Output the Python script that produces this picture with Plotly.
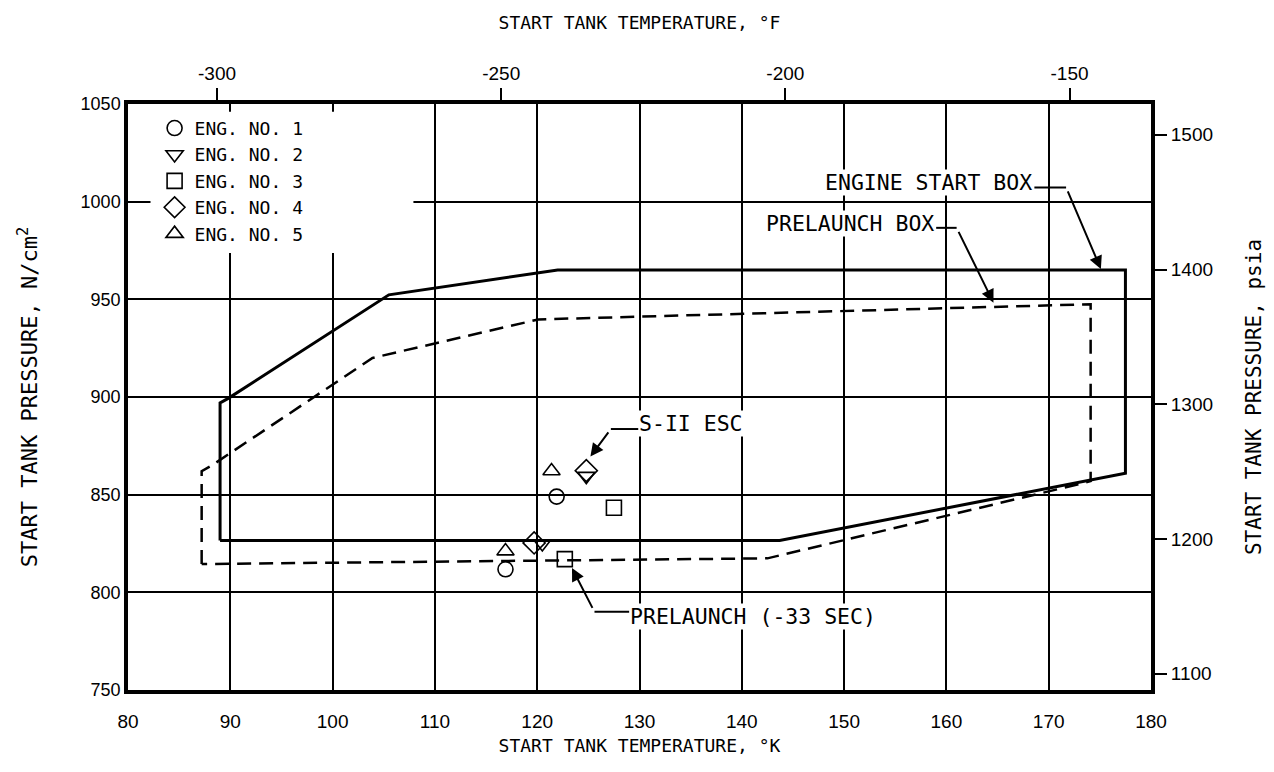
import plotly.graph_objects as go

# ---------------- data ----------------
eng_labels = ["ENG. NO. 1", "ENG. NO. 2", "ENG. NO. 3", "ENG. NO. 4", "ENG. NO. 5"]
eng_symbols = ["circle-open", "triangle-down-open", "square-open", "diamond-open", "triangle-up-open"]
eng_sizes = [15, 15, 15, 17, 15]

# S-II ESC points (temperature K, pressure N/cm2)
esc_temp = [121.9, 124.8, 127.5, 124.8, 121.4]
esc_press = [849.0, 859.5, 843.3, 862.3, 862.1]
# Prelaunch (-33 sec) points
pre_temp = [116.9, 120.5, 122.7, 119.7, 116.9]
pre_press = [811.8, 825.0, 817.0, 825.3, 821.1]

# Engine start box outline
start_box_temp = [89.0, 89.0, 89.8, 105.5, 122.0, 177.5, 177.5, 143.7, 89.0]
start_box_press = [826.5, 897.0, 899.3, 952.3, 965.0, 965.0, 861.0, 826.5, 826.5]

# Prelaunch box outline
pre_box_temp = [87.2, 87.2, 88.2, 103.9, 120.1, 174.1, 174.1, 173.3, 142.5, 87.2]
pre_box_press = [814.5, 862.0, 865.0, 920.0, 939.7, 947.5, 857.0, 855.8, 817.4, 814.5]

x_range = [80, 180]
y_range = [750, 1050]
F_ticks = [-300, -250, -200, -150]
psia_ticks = [1100, 1200, 1300, 1400, 1500]


def k_to_f(k):
    return k * 9.0 / 5.0 - 459.67


N_PER_CM2_PER_PSI = 0.689476

TXT = "DejaVu Sans Mono, Liberation Mono, monospace"
NUM = "Liberation Sans, Arial, sans-serif"

fig = go.Figure()

fig.add_trace(go.Scatter(
    x=start_box_temp, y=start_box_press, mode="lines",
    line=dict(color="black", width=3), showlegend=False, hoverinfo="skip"))
fig.add_trace(go.Scatter(
    x=pre_box_temp, y=pre_box_press, mode="lines",
    line=dict(color="black", width=2.5, dash="14px,8px"), showlegend=False, hoverinfo="skip"))

for i in range(5):
    fig.add_trace(go.Scatter(
        x=[esc_temp[i], pre_temp[i]], y=[esc_press[i], pre_press[i]],
        mode="markers", name=eng_labels[i],
        marker=dict(symbol=eng_symbols[i], size=eng_sizes[i], color="black",
                    line=dict(color="black", width=1.6))))

# invisible traces to carry the secondary axes
fig.add_trace(go.Scatter(x=[k_to_f(v) for v in x_range], y=[None, None], xaxis="x2",
                         yaxis="y", showlegend=False, hoverinfo="skip"))
fig.add_trace(go.Scatter(x=[None, None], y=[v / N_PER_CM2_PER_PSI for v in y_range],
                         xaxis="x", yaxis="y2", showlegend=False, hoverinfo="skip"))

# white area behind the legend breaks the grid
fig.add_shape(type="rect", xref="x", yref="y", x0=82.2, x1=107.9, y0=973.7, y1=1046.0,
              fillcolor="white", line=dict(width=0), layer="between")

# callouts: (text, text_x, text_y, xanchor, stub_x0, stub_x1, stub_y, tip_x, tip_y)
callouts = [
    ("ENGINE START BOX", 168.5, 1009.8, "right", 168.6, 171.7, 1007.3, 175.1, 965.5),
    ("PRELAUNCH BOX", 158.9, 988.6, "right", 159.0, 161.0, 986.6, 164.6, 948.3),
    ("S-II ESC", 129.9, 886.2, "left", 127.2, 129.9, 883.6, 125.2, 869.5),
    ("PRELAUNCH (-33 SEC)", 129.0, 787.6, "left", 125.6, 129.0, 790.0, 123.4, 812.5),
]

annotations = []
shapes = []
for text, tx, ty, anc, sx0, sx1, sy, hx, hy in callouts:
    annotations.append(dict(x=tx, y=ty, xref="x", yref="y", text=text, showarrow=False,
                            xanchor=anc, yanchor="middle", bgcolor="white", borderpad=0,
                            font=dict(family=TXT, size=21.5, color="black")))
    shapes.append(dict(type="line", xref="x", yref="y", x0=sx0, x1=sx1, y0=sy, y1=sy,
                       line=dict(color="black", width=2)))
    bend_x = sx0 if anc == "left" else sx1
    annotations.append(dict(x=hx, y=hy, xref="x", yref="y", ax=bend_x, ay=sy,
                            axref="x", ayref="y", text=" ", showarrow=True,
                            arrowhead=2, arrowsize=1.3, arrowwidth=2, arrowcolor="black",
                            standoff=0, startstandoff=0,
                            font=dict(family=TXT, size=4, color="black")))

for s in shapes:
    fig.add_shape(**s)

fig.update_layout(
    width=1274, height=772,
    margin=dict(l=128, r=121, t=104, b=82),
    paper_bgcolor="white", plot_bgcolor="white",
    showlegend=True,
    legend=dict(x=0.026, y=0.99, xanchor="left", yanchor="top",
                bgcolor="rgba(255,255,255,0)", borderwidth=0,
                font=dict(family=TXT, size=18, color="black"),
                tracegroupgap=0, itemwidth=30),
    annotations=annotations,
    xaxis=dict(range=x_range, dtick=10, tick0=80, showgrid=True, gridcolor="black",
               gridwidth=1.6, zeroline=False, showline=True, linecolor="black",
               linewidth=3.5, mirror=True, ticks="", ticklabelstandoff=11,
               tickfont=dict(family=NUM, size=19, color="black"),
               title=dict(text="START TANK TEMPERATURE, °K", standoff=10,
                          font=dict(family=TXT, size=18, color="black"))),
    yaxis=dict(range=y_range, dtick=50, tick0=750, showgrid=True, gridcolor="black",
               gridwidth=1.6, zeroline=False, showline=True, linecolor="black",
               linewidth=3.5, mirror=True, ticks="",
               tickfont=dict(family=NUM, size=18, color="black"),
               title=dict(text="START TANK PRESSURE, N/cm<sup>2</sup>", standoff=38,
                          font=dict(family=TXT, size=22, color="black"))),
    xaxis2=dict(overlaying="x", side="top", range=[k_to_f(v) for v in x_range],
                tickvals=F_ticks, ticktext=[str(v) for v in F_ticks],
                showgrid=False, zeroline=False, showline=False,
                ticks="outside", ticklen=15, tickwidth=2, tickcolor="black",
                tickfont=dict(family=NUM, size=19, color="black"),
                title=dict(text="START TANK TEMPERATURE, °F", standoff=29,
                           font=dict(family=TXT, size=18, color="black"))),
    yaxis2=dict(overlaying="y", side="right", range=[v / N_PER_CM2_PER_PSI for v in y_range],
                tickvals=psia_ticks, ticktext=[str(v) for v in psia_ticks],
                showgrid=False, zeroline=False, showline=False,
                ticks="outside", ticklen=15, tickwidth=2, tickcolor="black",
                tickfont=dict(family=NUM, size=19, color="black"),
                title=dict(text="START TANK PRESSURE, psia", standoff=34,
                           font=dict(family=TXT, size=21, color="black"))),
)

fig.write_html("out.html")
